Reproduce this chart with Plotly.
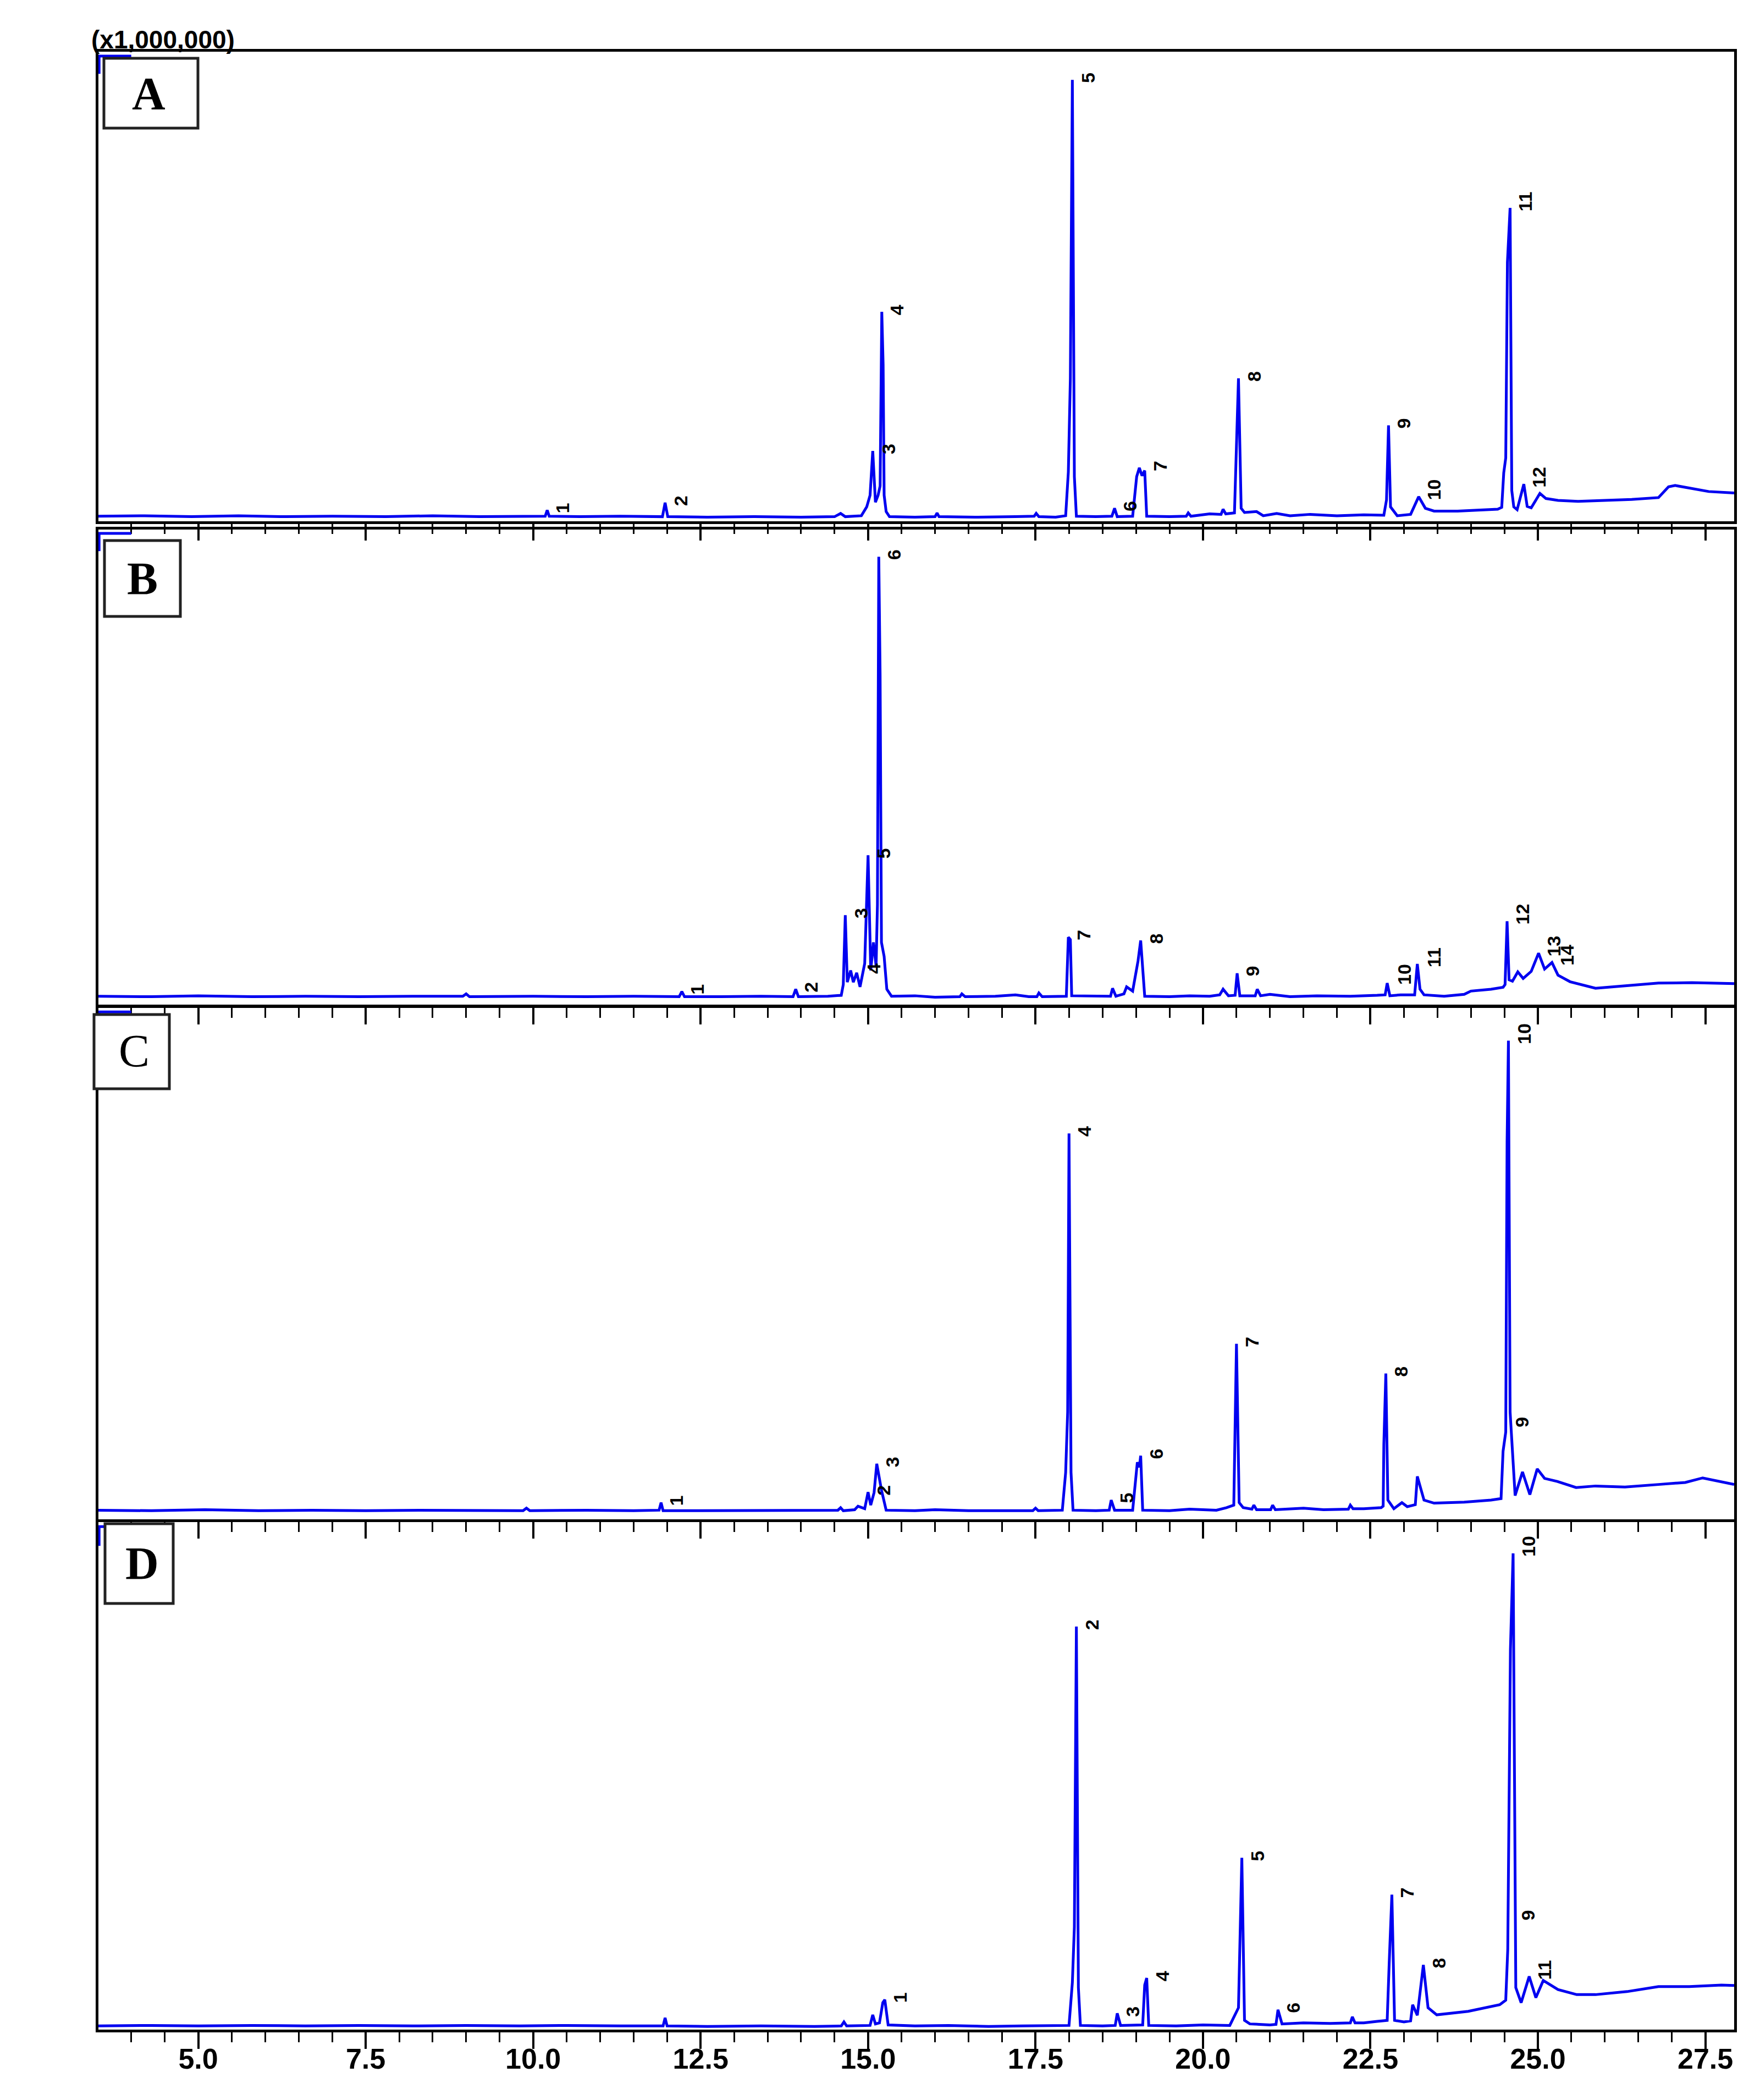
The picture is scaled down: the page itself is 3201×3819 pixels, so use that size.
import plotly.graph_objects as go

# ---------------- data (retention time in min, relative intensity in %) ----------------
A_time = [3.51, 4.2, 4.9, 5.6, 6.3, 7.0, 7.8, 8.5, 9.2, 9.8, 10.18, 10.21, 10.24, 10.7, 11.3,
          11.93, 11.97, 12.01, 12.6, 13.3, 14.0, 14.5, 14.59, 14.66, 14.9, 14.98, 15.03, 15.07,
          15.11, 15.15, 15.18, 15.205, 15.225, 15.24, 15.27, 15.32, 15.7, 16.0, 16.03, 16.06,
          16.6, 17.2, 17.48, 17.51, 17.55, 17.8, 17.95, 17.99, 18.02, 18.05, 18.08, 18.11, 18.4,
          18.64, 18.68, 18.72, 18.95, 19.01, 19.05, 19.09, 19.13, 19.16, 19.5, 19.75, 19.78, 19.82,
          20.1, 20.27, 20.3, 20.34, 20.47, 20.53, 20.57, 20.62, 20.8, 20.9, 21.1, 21.3, 21.6, 22.0, 22.4,
          22.7, 22.74, 22.77, 22.8, 22.9, 23.1, 23.22, 23.32, 23.45, 23.8, 24.1, 24.4, 24.46,
          24.49, 24.52, 24.545, 24.585, 24.61, 24.64, 24.69, 24.79, 24.84, 24.9, 25.03, 25.12,
          25.3, 25.6, 26.0, 26.4, 26.8, 26.95, 27.05, 27.3, 27.55, 27.93]
A_signal = [0.5, 0.6, 0.4, 0.6, 0.4, 0.5, 0.4, 0.6, 0.4, 0.5, 0.5, 1.8, 0.5, 0.4, 0.5,
            0.4, 3.4, 0.4, 0.3, 0.4, 0.3, 0.4, 1.1, 0.4, 0.6, 2.5, 5.0, 14.5,
            3.5, 5.0, 7.0, 44.4, 33.0, 5.0, 1.5, 0.4, 0.3, 0.4, 1.2, 0.4,
            0.3, 0.4, 0.5, 1.1, 0.4, 0.3, 0.6, 10.0, 30.0, 94.2, 9.0, 0.5, 0.4,
            0.5, 2.2, 0.4, 0.5, 9.0, 10.9, 9.2, 10.3, 0.5, 0.4, 0.5, 1.2, 0.5,
            1.0, 0.9, 2.0, 1.0, 1.2, 30.1, 2.2, 1.3, 1.5, 0.6, 1.1, 0.6, 0.9, 0.6, 0.8,
            0.7, 4.0, 20.0, 2.5, 0.6, 0.9, 4.7, 2.2, 1.6, 1.6, 1.8, 2.0, 2.4,
            9.8, 13.0, 55.0, 66.7, 6.0, 2.5, 1.9, 7.4, 2.6, 2.3, 5.4, 4.3,
            3.9, 3.7, 3.9, 4.1, 4.5, 6.8, 7.1, 6.5, 5.8, 5.5]
A_peak_no = ["1", "2", "3", "4", "5", "6", "7", "8", "9", "10", "11", "12"]
A_peak_rt = [10.21, 11.97, 15.07, 15.205, 18.05, 18.68, 19.13, 20.53, 22.77, 23.22, 24.585, 24.79]
A_peak_h = [1.8, 3.4, 14.5, 44.4, 94.2, 2.2, 10.9, 30.1, 20.0, 4.7, 66.7, 7.4]

B_time = [3.51, 4.3, 5.0, 5.8, 6.6, 7.4, 8.2, 8.95, 9.0, 9.05, 10.0, 10.8, 11.5, 12.18, 12.22, 12.26,
          12.8, 13.4, 13.88, 13.92, 13.96, 14.4, 14.6, 14.63, 14.66, 14.69, 14.74, 14.78, 14.83,
          14.88, 14.95, 15.0, 15.04, 15.08, 15.12, 15.14, 15.16, 15.18, 15.2, 15.24, 15.28, 15.35,
          15.7, 16.0, 16.37, 16.4, 16.45, 16.9, 17.2, 17.4, 17.52, 17.55, 17.6, 17.96, 17.99, 18.02, 18.04, 18.4,
          18.62, 18.65, 18.7, 18.82, 18.86, 18.95, 19.03, 19.07, 19.1, 19.13, 19.5, 19.8, 20.1, 20.25,
          20.3, 20.38, 20.48, 20.51, 20.55, 20.78, 20.81, 20.86, 21.0, 21.3, 21.7, 22.2, 22.6, 22.72, 22.75,
          22.79, 22.95, 23.16, 23.2, 23.24, 23.3, 23.6, 23.9, 24.0, 24.3, 24.48, 24.51, 24.54,
          24.57, 24.62, 24.7, 24.78, 24.9, 25.01, 25.1, 25.21, 25.3, 25.48, 25.86, 26.33, 26.8,
          27.3, 27.93]
B_signal = [0.5, 0.4, 0.6, 0.4, 0.5, 0.4, 0.5, 0.5, 1.0, 0.4, 0.5, 0.4, 0.5, 0.4, 1.5, 0.4,
            0.4, 0.5, 0.4, 2.0, 0.4, 0.5, 0.7, 3.0, 17.8, 3.5, 6.0, 3.5, 5.5,
            2.5, 7.5, 30.6, 6.0, 12.0, 7.0, 20.0, 94.3, 69.0, 12.0, 9.0, 2.0, 0.5,
            0.6, 0.3, 0.4, 1.0, 0.4, 0.5, 0.8, 0.4, 0.4, 1.2, 0.4, 0.5, 13.1, 12.6, 0.6, 0.5,
            0.5, 2.2, 0.5, 1.0, 2.5, 1.6, 8.0, 12.4, 6.0, 0.5, 0.4, 0.6, 0.5, 0.8,
            2.0, 0.6, 0.7, 5.4, 0.6, 0.6, 2.0, 0.6, 0.9, 0.4, 0.6, 0.5, 0.7, 0.8, 3.3,
            0.6, 0.8, 0.8, 7.4, 2.0, 0.8, 0.5, 0.9, 1.6, 2.0, 2.4, 3.0, 16.5,
            4.0, 3.7, 5.7, 4.3, 5.8, 9.7, 6.3, 7.7, 5.0, 3.6, 2.2, 2.7, 3.3,
            3.4, 3.2]
B_peak_no = ["1", "2", "3", "4", "5", "6", "7", "8", "9", "10", "11", "12", "13", "14"]
B_peak_rt = [12.22, 13.92, 14.66, 14.86, 15.0, 15.16, 17.99, 19.07, 20.51, 22.78, 23.22, 24.54, 25.01, 25.21]
B_peak_h = [1.5, 2.0, 17.8, 6.0, 30.6, 94.3, 13.1, 12.4, 5.4, 3.6, 7.4, 16.5, 9.7, 7.7]

C_time = [3.51, 4.3, 5.1, 5.9, 6.7, 7.5, 8.3, 9.1, 9.85, 9.9, 9.95, 10.8, 11.5, 11.88, 11.91, 11.94,
          12.5, 13.3, 14.0, 14.55, 14.59, 14.63, 14.8, 14.85, 14.95, 15.0, 15.04, 15.09, 15.13,
          15.2, 15.27, 15.7, 16.0, 16.5, 17.2, 17.46, 17.5, 17.54, 17.9, 17.95, 17.98, 18.0, 18.03, 18.06,
          18.4, 18.6, 18.63, 18.68, 18.95, 19.02, 19.05, 19.07, 19.1, 19.5, 19.8, 20.2, 20.35, 20.46,
          20.5, 20.54, 20.6, 20.73, 20.76, 20.8, 21.01, 21.04, 21.08, 21.5, 21.8, 22.17, 22.2, 22.24,
          22.4, 22.66, 22.69, 22.7, 22.73,
          22.76, 22.85, 22.97, 23.05, 23.17, 23.2, 23.3, 23.45, 23.9, 24.3, 24.45, 24.48, 24.52, 24.54,
          24.56, 24.585, 24.66, 24.77, 24.88, 24.99, 25.1, 25.29, 25.57, 25.86, 26.3, 26.8, 27.2,
          27.46, 27.7, 27.93]
C_signal = [0.5, 0.4, 0.6, 0.4, 0.5, 0.4, 0.5, 0.4, 0.4, 0.9, 0.4, 0.5, 0.4, 0.5, 2.0, 0.4,
            0.4, 0.5, 0.4, 0.5, 1.0, 0.4, 0.6, 1.3, 0.8, 4.1, 1.5, 4.0, 9.7,
            4.5, 0.5, 0.4, 0.6, 0.4, 0.4, 0.4, 0.9, 0.4, 0.5, 8.0, 20.0, 75.2, 8.0, 0.5,
            0.4, 0.5, 2.5, 0.5, 0.5, 10.0, 9.0, 11.3, 0.5, 0.4, 0.7, 0.5, 1.0, 1.5,
            33.5, 2.0, 1.0, 0.7, 1.5, 0.6, 0.6, 1.5, 0.6, 0.9, 0.6, 0.7, 1.5, 0.8,
            0.8, 1.0, 1.3, 13.5, 27.6,
            2.5, 0.8, 2.0, 1.2, 1.6, 7.2, 2.5, 1.9, 2.1, 2.5, 2.8, 12.2, 16.0, 73.6,
            93.6, 20.0, 3.4, 8.1, 3.6, 8.7, 6.8, 6.2, 5.0, 5.3, 5.1, 5.6, 6.0,
            6.9, 6.2, 5.6]
C_peak_no = ["1", "2", "3", "4", "5", "6", "7", "8", "9", "10"]
C_peak_rt = [11.91, 15.0, 15.13, 18.0, 18.63, 19.07, 20.5, 22.73, 24.53, 24.56]
C_peak_h = [2.0, 4.1, 9.7, 75.2, 2.5, 11.3, 33.5, 27.6, 17.6, 93.6]

D_time = [3.51, 4.3, 5.0, 5.8, 6.6, 7.4, 8.2, 9.0, 9.8, 10.5, 11.3, 11.94, 11.97, 12.0, 12.6,
          13.4, 14.2, 14.6, 14.64, 14.68, 15.03, 15.07, 15.11, 15.17, 15.22, 15.25, 15.3, 15.7,
          16.2, 16.8, 17.3, 17.7, 18.0, 18.05, 18.08, 18.11, 18.14, 18.17, 18.5, 18.69, 18.72, 18.77,
          19.1, 19.13, 19.16, 19.19, 19.6, 20.0, 20.4, 20.53, 20.58, 20.62, 20.7, 21.0, 21.09, 21.12,
          21.18, 21.5, 21.9, 22.2, 22.23, 22.27, 22.4, 22.6, 22.75, 22.78, 22.82, 22.86, 23.0, 23.1, 23.13, 23.2, 23.25,
          23.29, 23.36, 23.49, 23.96, 24.43, 24.52, 24.55, 24.59, 24.63, 24.67, 24.75, 24.87,
          24.97, 25.08, 25.3, 25.58, 25.86, 26.33, 26.8, 27.26, 27.74, 27.93]
D_signal = [0.4, 0.5, 0.4, 0.5, 0.4, 0.5, 0.4, 0.5, 0.4, 0.5, 0.4, 0.4, 2.0, 0.4, 0.3,
            0.4, 0.3, 0.4, 1.2, 0.4, 0.5, 2.6, 0.8, 1.0, 5.0, 5.6, 0.6, 0.4,
            0.5, 0.3, 0.4, 0.5, 0.5, 9.0, 20.0, 79.5, 8.0, 0.5, 0.4, 0.5, 2.9, 0.5,
            0.6, 8.5, 9.9, 0.5, 0.4, 0.6, 0.5, 4.0, 33.7, 1.5, 0.8, 0.6, 0.7, 3.6,
            0.8, 1.0, 0.9, 1.0, 2.2, 1.0, 1.0, 1.3, 1.5, 12.8, 26.4, 1.5, 1.2, 1.4, 4.6, 2.5, 7.5,
            12.5, 4.0, 2.6, 3.3, 4.6, 5.5, 15.5, 75.0, 94.0, 8.0, 5.0, 10.2,
            6.0, 9.4, 7.6, 6.6, 6.6, 7.2, 8.2, 8.2, 8.5, 8.4]
D_peak_no = ["1", "2", "3", "4", "5", "6", "7", "8", "9", "10", "11"]
D_peak_rt = [15.25, 18.11, 18.72, 19.16, 20.58, 21.12, 22.82, 23.29, 24.63, 24.63, 24.87]
D_peak_h = [5.6, 79.5, 2.9, 9.9, 33.7, 3.6, 26.4, 12.5, 22.0, 94.0, 10.2]

# off-scale solvent tail at the very start of each run
solvent_time = [3.52, 3.52, 4.0]
solvent_signal = [95.5, 99.3, 99.3]

panel_names = ["A", "B", "C", "D"]
x_ticks = [5.0, 7.5, 10.0, 12.5, 15.0, 17.5, 20.0, 22.5, 25.0, 27.5]
x_tick_text = ["5.0", "7.5", "10.0", "12.5", "15.0", "17.5", "20.0", "22.5", "25.0", "27.5"]
scale_text = "(x1,000,000)"

# ---------------- layout geometry (pixels) ----------------
W, H = 3201, 3819
X_L, X_R = 171, 3146
panel_px = [(86, 940), (955, 1820), (1824, 2755), (2760, 3683)]
y_ranges = [[-0.59, 100.24], [-1.41, 100.12], [-1.31, 100.2], [-0.33, 100.2]]
letter_boxes = [(181, 98, 352, 225), (182, 975, 320, 1113), (163, 1837, 300, 1972), (183, 2763, 307, 2908)]
letter_centres = [(262, 162), (251, 1044), (236, 1903), (250, 2835)]
letter_bold = [True, True, False, True]

BLUE = "#0000F0"


def px_x(p):
    return p / W


def px_y(p):
    return 1 - p / H


series = [(A_time, A_signal, A_peak_no, A_peak_rt, A_peak_h),
          (B_time, B_signal, B_peak_no, B_peak_rt, B_peak_h),
          (C_time, C_signal, C_peak_no, C_peak_rt, C_peak_h),
          (D_time, D_signal, D_peak_no, D_peak_rt, D_peak_h)]

fig = go.Figure()
annotations = []
shapes = []
layout_axes = {}

for i, (t, s, pno, prt, ph) in enumerate(series):
    n = i + 1
    xa = "x" if n == 1 else f"x{n}"
    ya = "y" if n == 1 else f"y{n}"
    fig.add_trace(go.Scatter(x=t, y=s, mode="lines", xaxis=xa, yaxis=ya,
                             line=dict(color=BLUE, width=5), hoverinfo="skip"))
    fig.add_trace(go.Scatter(x=solvent_time, y=solvent_signal, mode="lines", xaxis=xa, yaxis=ya,
                             line=dict(color=BLUE, width=5), hoverinfo="skip"))
    top, bot = panel_px[i]
    last = (n == 4)
    layout_axes["xaxis" if n == 1 else f"xaxis{n}"] = dict(
        domain=[px_x(X_L), px_x(X_R)], anchor=ya, range=[3.51, 27.93],
        showline=True, mirror=True, linecolor="black", linewidth=5,
        showgrid=False, zeroline=False,
        tickmode="array", tickvals=x_ticks, ticktext=x_tick_text,
        ticks="outside", ticklen=30, tickwidth=4, tickcolor="black",
        minor=dict(dtick=0.5, tick0=5.0, ticks="outside", ticklen=18, tickwidth=3,
                   tickcolor="black", showgrid=False),
        showticklabels=last, ticklabelstandoff=-26,
        tickfont=dict(family="Liberation Sans", size=52, color="black", weight="bold"),
    )
    layout_axes["yaxis" if n == 1 else f"yaxis{n}"] = dict(
        domain=[px_y(bot), px_y(top)], anchor=xa, range=y_ranges[i],
        showline=True, mirror=True, linecolor="black", linewidth=5,
        showgrid=False, zeroline=False, showticklabels=False, ticks="",
    )
    for lab, rt, h in zip(pno, prt, ph):
        annotations.append(dict(x=rt, y=h, xref=xa, yref=ya, text=lab, showarrow=False,
                                textangle=-90, xanchor="left", yanchor="bottom",
                                xshift=7, yshift=-8,
                                font=dict(family="Liberation Sans", size=34, color="black",
                                          weight="bold")))
    x0, y0, x1, y1 = letter_boxes[i]
    shapes.append(dict(type="rect", xref="paper", yref="paper",
                       x0=px_x(x0), x1=px_x(x1), y0=px_y(y1), y1=px_y(y0),
                       line=dict(color="#222222", width=5), fillcolor="white", layer="above"))
    cx, cy = letter_centres[i]
    annotations.append(dict(x=px_x(cx), y=px_y(cy), xref="paper", yref="paper",
                            text=panel_names[i], showarrow=False, xanchor="center", yanchor="middle",
                            font=dict(family="Liberation Serif", size=84, color="black",
                                      weight="bold" if letter_bold[i] else "normal")))

annotations.append(dict(x=px_x(288), y=px_y(64), xref="paper", yref="paper", text=scale_text,
                        showarrow=False, xanchor="center", yanchor="middle",
                        font=dict(family="Liberation Sans", size=46, color="black", weight="bold")))

fig.update_layout(
    width=W, height=H,
    margin=dict(l=0, r=0, t=0, b=0, pad=0),
    paper_bgcolor="white", plot_bgcolor="white",
    showlegend=False,
    annotations=annotations,
    shapes=shapes,
    **layout_axes,
)

fig.write_html("out.html")
